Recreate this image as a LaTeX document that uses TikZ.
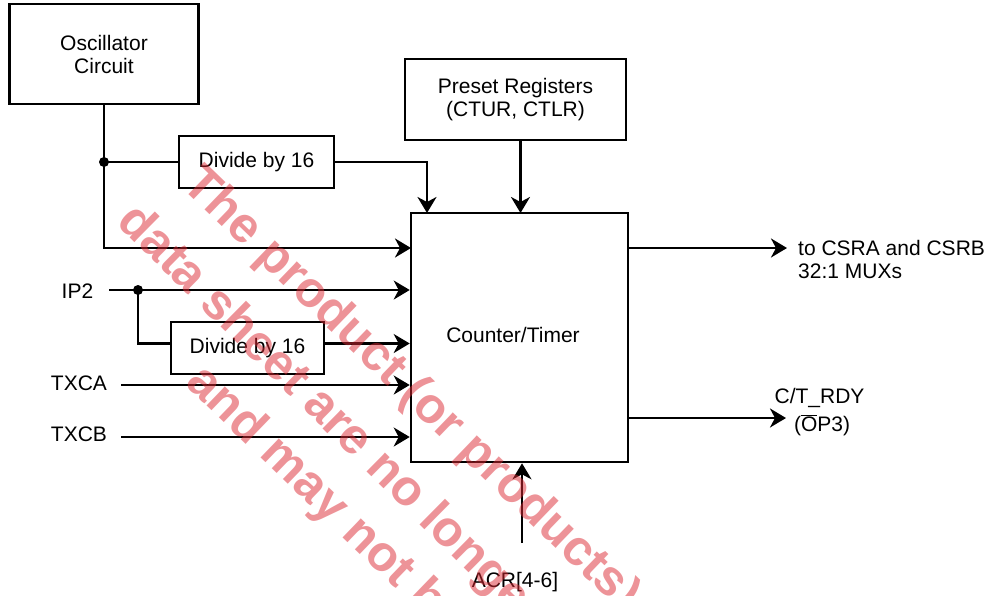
\documentclass[tikz,border=0pt]{standalone}
\usepackage{fontspec}
\setmainfont{Liberation Sans}
\usetikzlibrary{arrows.meta}
\definecolor{wmred}{RGB}{220,40,50}
\begin{document}
\begin{tikzpicture}[x=1pt,y=-1pt,
  every node/.style={font=\fontsize{21}{23}\selectfont, inner sep=0pt},
  blk/.style={draw, line width=2.6pt, inner sep=0pt},
  wire/.style={line width=2.5pt},
  arr/.style={wire, -{Stealth[length=16pt,width=19pt,inset=5pt]}},
  wm/.style={font=\fontsize{50}{50}\bfseries\selectfont, text=wmred, text opacity=0.5, anchor=base west, inner sep=0pt}
]
\useasboundingbox (0,0) rectangle (990,595);

% boxes
\node[blk, minimum width=189pt, minimum height=100pt, align=center] (osc) at (104,54) {Oscillator\\Circuit};
\node[blk, minimum width=221pt, minimum height=81pt, align=center] (pre) at (515.5,99.5) {Preset Registers\\(CTUR, CTLR)};
\node[blk, minimum width=155pt, minimum height=52pt] (d1) at (256.5,162) {Divide by 16};
\node[blk, minimum width=153pt, minimum height=52pt] (d2) at (247.5,348) {Divide by 16};
\node[blk, minimum width=217pt, minimum height=249pt] (ct) at (519.5,337.5) {};
\node (ctt) at (513,335) {Counter/Timer};

% labels
\node (ip2) at (77.5,291) {IP2};
\node (txca) at (79,383) {TXCA};
\node (txcb) at (79,434) {TXCB};
\node[align=left, anchor=west] (mux) at (798,259) {to CSRA and CSRB\\32:1 MUXs};
\node (rdy) at (819.5,398) {C/T\_RDY};
\node (op3) at (822,425) {(\(\overline{\hbox{O}}\)P3)};
\node (acr) at (515,582) {ACR[4-6]};

% connectors
\coordinate (j1) at (104,162);
\coordinate (c1) at (411,248);
\draw[arr] (osc.south) |- (c1);
\draw[wire] (j1) -- (d1.west);
\coordinate (t1) at (427,213);
\draw[arr] (d1.east) -| (t1);
\coordinate (t2) at (520.5,213);
\draw[arr] (pre.south -| t2) -- (t2);

\coordinate (s2) at (109,290);
\coordinate (j2) at (138,290);
\draw[arr] (s2) -- (ct.west |- s2);
\coordinate (b2) at (171,343.5);
\draw[wire] (j2) |- (b2);
\draw[arr] (d2.east |- b2) -- (ct.west |- b2);
\coordinate (s3) at (121,385);
\draw[arr] (s3) -- (ct.west |- s3);
\coordinate (s4) at (121,437);
\draw[arr] (s4) -- (ct.west |- s4);

\coordinate (o1) at (787,248);
\draw[arr] (ct.east |- o1) -- (o1);
\coordinate (o2) at (786,418);
\draw[arr] (ct.east |- o2) -- (o2);
\coordinate (a1) at (522,543);
\draw[arr] (a1) -- (a1 |- ct.south);

\fill (j1) circle (5pt);
\fill (j2) circle (5pt);

% watermark
\begin{scope}
\clip (0,0) rectangle (990,595);
\node[wm, rotate=-44] (w1) at (180.4,186.2) {The product (or products)};
\node[wm, rotate=-44.7] (w2) at (115.4,222.9) {data sheet are no longer};
\node[wm, rotate=-44] (w3) at (184.1,384.4) {and may not be};
\end{scope}
\end{tikzpicture}
\end{document}
